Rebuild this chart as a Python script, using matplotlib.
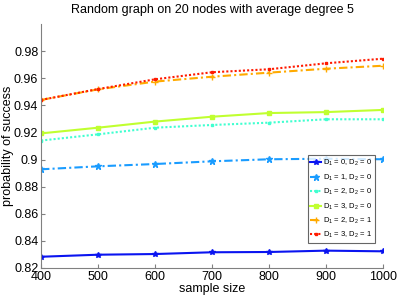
import matplotlib
matplotlib.use("Agg")
import matplotlib.pyplot as plt

plt.rcParams['font.family'] = ['Liberation Sans', 'DejaVu Sans']
plt.rcParams['mathtext.fontset'] = 'custom'
plt.rcParams['mathtext.rm'] = 'Liberation Sans'
plt.rcParams['mathtext.it'] = 'Liberation Sans'

sample_size = [400, 500, 600, 700, 800, 900, 1000]
d10_d20 = [0.8283, 0.8298, 0.8303, 0.8316, 0.8318, 0.8328, 0.8323]
d11_d20 = [0.8928, 0.8950, 0.8967, 0.8987, 0.9002, 0.9006, 0.9002]
d12_d20 = [0.9140, 0.9186, 0.9235, 0.9255, 0.9272, 0.9297, 0.9297]
d13_d20 = [0.9193, 0.9235, 0.9280, 0.9316, 0.9343, 0.9350, 0.9366]
d12_d21 = [0.9440, 0.9518, 0.9575, 0.9611, 0.9641, 0.9670, 0.9692]
d13_d21 = [0.9440, 0.9520, 0.9592, 0.9644, 0.9666, 0.9710, 0.9744]
labels = [r'D$_1$ = 0, D$_2$ = 0', r'D$_1$ = 1, D$_2$ = 0', r'D$_1$ = 2, D$_2$ = 0',
          r'D$_1$ = 3, D$_2$ = 0', r'D$_1$ = 2, D$_2$ = 1', r'D$_1$ = 3, D$_2$ = 1']

fig = plt.figure(figsize=(3.99, 3.02), dpi=100)
ax = fig.add_axes([0.103, 0.1126, 0.857, 0.808])

series = [d10_d20, d11_d20, d12_d20, d13_d20, d12_d21, d13_d21]
colors = ['#0a14f0', '#1a9cff', '#40ffd0', '#c0ff30', '#ffaa00', '#ff1a00']
dashes = [None, (4, 1.5, 1, 1.5), (1, 1), None, (4, 1.5, 1, 1.5), (1, 1)]
markers = ['*', '*', 's', 's', '+', 's']
msizes = [4, 5, 2, 3, 5, 1.5]
for y, c, d, m, ms, lab in zip(series, colors, dashes, markers, msizes, labels):
    line, = ax.plot(sample_size, y, color=c, marker=m, markersize=ms,
                    linewidth=1.5, label=lab)
    if d is not None:
        line.set_dashes(d)

ax.set_xlim(400, 1000)
ax.set_ylim(0.82, 1.0)
ax.set_xticks(sample_size)
ax.set_yticks([0.82, 0.84, 0.86, 0.88, 0.9, 0.92, 0.94, 0.96, 0.98])
ax.set_yticklabels(['0.82', '0.84', '0.86', '0.88', '0.9', '0.92', '0.94', '0.96', '0.98'])
ax.tick_params(direction='in', length=3, labelsize=9, color='#808080', pad=2)
for s in ['top', 'right']:
    ax.spines[s].set_visible(False)
for s in ['left', 'bottom']:
    ax.spines[s].set_color('#808080')
ax.set_xlabel('sample size', fontsize=9, labelpad=0)
ax.set_ylabel('probability of success', fontsize=9)
ax.yaxis.set_label_coords(-0.08, 0.5)
ax.set_title('Random graph on 20 nodes with average degree 5', fontsize=9, pad=8)

leg = ax.legend(loc='lower right', bbox_to_anchor=(0.977, 0.1025), fontsize=5.5,
                frameon=True, fancybox=False, edgecolor='#404040',
                handlelength=1.4, handletextpad=0.3, labelspacing=0.55,
                borderpad=0.35, borderaxespad=0)
leg.get_frame().set_linewidth(0.8)

fig.savefig('out.png', dpi=100)
